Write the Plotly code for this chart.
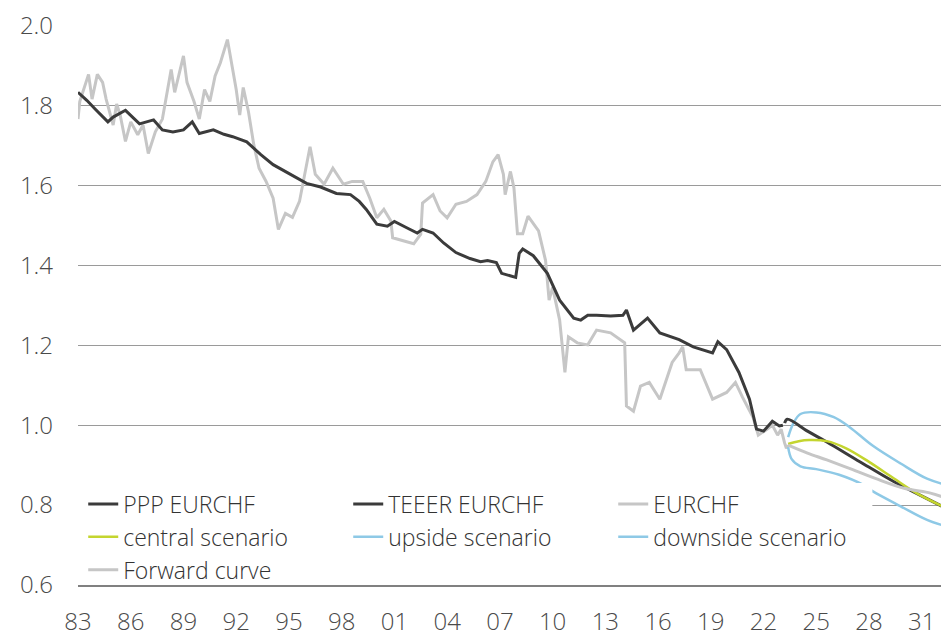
import plotly.graph_objects as go

# ---- data (x = year position on the time axis, y = EURCHF level) ----
eurchf_x = [1983.0, 1983.1, 1983.6, 1983.8, 1984.1, 1984.4, 1984.6, 1985.0, 1985.2, 1985.4,
            1985.7, 1986.0, 1986.4, 1986.7, 1987.0, 1987.4, 1987.8, 1988.3, 1988.5, 1989.0,
            1989.2, 1989.6, 1989.9, 1990.2, 1990.5, 1990.8, 1991.1, 1991.5, 1991.8, 1992.0,
            1992.2, 1992.4, 1992.7, 1993.0, 1993.3, 1993.7, 1994.1, 1994.4, 1994.8, 1995.2,
            1995.6, 1995.9, 1996.2, 1996.5, 1997.0, 1997.5, 1998.1, 1998.6, 1999.2, 1999.6,
            2000.0, 2000.4, 2000.8, 2000.9, 2001.5, 2002.1, 2002.5, 2002.6, 2003.2, 2003.6,
            2004.0, 2004.5, 2005.1, 2005.7, 2006.2, 2006.6, 2006.9, 2007.2, 2007.3, 2007.6,
            2007.8, 2008.0, 2008.3, 2008.6, 2009.2, 2009.6, 2009.8, 2010.0, 2010.4, 2010.7,
            2010.9, 2011.4, 2012.0, 2012.5, 2013.3, 2014.0, 2014.1, 2014.2, 2014.6, 2015.0,
            2015.5, 2016.1, 2016.8, 2017.2, 2017.4, 2017.6, 2018.4, 2019.1, 2019.9, 2020.4,
            2020.8, 2021.4, 2021.7, 2022.2, 2022.5, 2022.8, 2023.0, 2023.2, 2023.3, 2023.4]
eurchf_y = [1.766, 1.81, 1.878, 1.816, 1.878, 1.858, 1.816, 1.751, 1.804, 1.776,
            1.71, 1.759, 1.727, 1.751, 1.68, 1.734, 1.766, 1.89, 1.833, 1.924,
            1.858, 1.81, 1.766, 1.84, 1.81, 1.874, 1.907, 1.965, 1.89, 1.84,
            1.776, 1.845, 1.784, 1.702, 1.643, 1.61, 1.568, 1.49, 1.53, 1.52,
            1.56, 1.628, 1.697, 1.628, 1.603, 1.643, 1.603, 1.61, 1.61, 1.568,
            1.519, 1.54, 1.511, 1.469, 1.461, 1.454, 1.478, 1.556, 1.577, 1.536,
            1.519, 1.553, 1.56, 1.577, 1.61, 1.659, 1.677, 1.628, 1.577, 1.635,
            1.594, 1.479, 1.479, 1.523, 1.486, 1.412, 1.313, 1.345, 1.263, 1.132,
            1.221, 1.206, 1.201, 1.238, 1.231, 1.209, 1.206, 1.048, 1.035, 1.098,
            1.107, 1.065, 1.157, 1.181, 1.196, 1.139, 1.139, 1.065, 1.082, 1.107,
            1.07, 1.02, 0.975, 0.99, 1.0, 0.975, 0.99, 0.955, 0.942, 0.95]

teeer_x = [1983.0, 1983.5, 1984.0, 1984.7, 1985.0, 1985.7, 1986.5, 1987.3, 1987.8, 1988.4,
           1989.0, 1989.5, 1989.9, 1990.7, 1991.3, 1991.8, 1992.6, 1993.4, 1994.1, 1995.1,
           1996.0, 1996.8, 1997.7, 1998.5, 1999.0, 1999.4, 2000.0, 2000.6, 2001.0, 2001.7,
           2002.3, 2002.6, 2003.2, 2003.8, 2004.5, 2005.3, 2005.9, 2006.3, 2006.8, 2007.1,
           2007.9, 2008.1, 2008.3, 2008.9, 2009.7, 2010.4, 2011.2, 2011.6, 2012.0, 2012.5,
           2013.3, 2014.0, 2014.2, 2014.6, 2015.4, 2016.1, 2017.2, 2018.0, 2019.1, 2019.4,
           2019.9, 2020.6, 2021.2, 2021.6, 2022.0, 2022.5, 2022.9, 2023.1]
teeer_y = [1.833, 1.813, 1.79, 1.759, 1.771, 1.788, 1.754, 1.764, 1.739, 1.734,
           1.739, 1.759, 1.730, 1.739, 1.728, 1.722, 1.709, 1.677, 1.652, 1.627,
           1.605, 1.596, 1.58, 1.577, 1.56, 1.54, 1.503, 1.498, 1.51, 1.494,
           1.481, 1.49, 1.481, 1.456, 1.432, 1.417, 1.409, 1.412, 1.407, 1.38,
           1.37, 1.43, 1.441, 1.424, 1.38, 1.313, 1.268, 1.263, 1.275, 1.275,
           1.273, 1.275, 1.288, 1.238, 1.268, 1.231, 1.214, 1.196, 1.181, 1.209,
           1.189, 1.132, 1.065, 0.99, 0.985, 1.01, 0.998, 1.0]

ppp_x = [2023.2, 2023.35, 2024.5, 2025.6, 2027.5, 2029.4, 2030.9, 2032.6]
ppp_y = [1.005, 1.015, 0.985, 0.958, 0.908, 0.859, 0.825, 0.787]

central_x = [2023.4, 2024.0, 2024.6, 2025.6, 2026.7, 2028.0, 2029.4, 2030.7, 2032.6]
central_y = [0.953, 0.96, 0.963, 0.96, 0.942, 0.908, 0.867, 0.83, 0.788]

upside_x = [2023.4, 2023.7, 2024.1, 2025.0, 2026.0, 2026.9, 2028.2, 2029.8, 2031.3, 2032.6]
upside_y = [0.97, 1.005, 1.028, 1.032, 1.02, 0.995, 0.949, 0.904, 0.866, 0.848]

downside_x = [2023.4, 2023.6, 2024.1, 2025.0, 2026.3, 2027.7, 2028.2, 2029.8, 2031.3, 2032.6]
downside_y = [0.945, 0.915, 0.897, 0.89, 0.876, 0.85, 0.835, 0.797, 0.763, 0.744]

forward_x = [2023.4, 2024.5, 2025.6, 2027.0, 2028.4, 2030.0, 2031.5, 2032.2]
forward_y = [0.95, 0.93, 0.913, 0.89, 0.866, 0.842, 0.83, 0.82]

tick_years = list(range(1983, 2032, 3))
tick_labels = [f"{y % 100:02d}" for y in tick_years]
y_ticks = [0.6, 0.8, 1.0, 1.2, 1.4, 1.6, 1.8, 2.0]
y_labels = ["0.6", "0.8", "1.0", "1.2", "1.4", "1.6", "1.8", "2.0"]

DARK = "#3b3b3b"
LGRAY = "#c6c6c6"
GREEN = "#c4d52f"
BLUE = "#8ec9e6"

fig = go.Figure()

def add(name, x, y, color, width, rank, shape="linear"):
    fig.add_trace(go.Scatter(x=x, y=y, name=name, mode="lines",
                             line=dict(color=color, width=width, shape=shape),
                             legendrank=rank, hoverinfo="skip"))

# drawing order (bottom -> top); legend order via legendrank
add("EURCHF", eurchf_x, eurchf_y, LGRAY, 3, 3)
add("upside scenario", upside_x, upside_y, BLUE, 2.5, 5, "spline")
add("downside scenario", downside_x, downside_y, BLUE, 2.5, 6, "spline")
add("TEEER EURCHF", teeer_x, teeer_y, DARK, 3, 2)
add("PPP EURCHF", ppp_x, ppp_y, DARK, 3, 1, "spline")
add("central scenario", central_x, central_y, GREEN, 2.5, 4, "spline")
add("Forward curve", forward_x, forward_y, LGRAY, 3, 7, "spline")

# white backing box of the legend (stops just above the x-axis line)
fig.add_shape(type="rect", layer="above", xref="paper", yref="y",
              x0=0, x1=0.912, y0=0.6045, y1=0.855,
              fillcolor="white", line=dict(width=0))

FONT = "Open Sans"

# page body has an 8px margin -> figure sized/offset to compensate
fig.update_layout(
    width=941, height=629,
    margin=dict(l=70, r=0, t=15, b=49),
    paper_bgcolor="white", plot_bgcolor="white",
    font=dict(family=FONT, color="#4a4a4a"),
    showlegend=True,
    legend=dict(
        orientation="h",
        x=0.006, xanchor="left",
        y=0.183, yanchor="top",
        bgcolor="rgba(0,0,0,0)",
        borderwidth=0,
        entrywidth=220, entrywidthmode="pixels",
        font=dict(family=FONT, size=23, color="#333333", weight=300),
        traceorder="normal",
        tracegroupgap=0,
    ),
    xaxis=dict(
        range=[1983, 2032.55],
        tickmode="array", tickvals=tick_years, ticktext=tick_labels,
        showgrid=False, zeroline=False,
        showline=True, linecolor="#808080", linewidth=2,
        ticks="", ticklabelstandoff=14, ticklabeloverflow="allow",
        tickfont=dict(family=FONT, size=24, color="#4a4a4a", weight=300),
    ),
    yaxis=dict(
        range=[0.6, 2.0015],
        tickmode="array", tickvals=y_ticks, ticktext=y_labels,
        showgrid=True, gridcolor="#9a9a9a", gridwidth=1,
        zeroline=False, showline=False,
        ticks="", ticklabelstandoff=24, ticklabeloverflow="allow",
        tickfont=dict(family=FONT, size=24, color="#4a4a4a", weight=300),
    ),
)

fig.write_html("out.html")
